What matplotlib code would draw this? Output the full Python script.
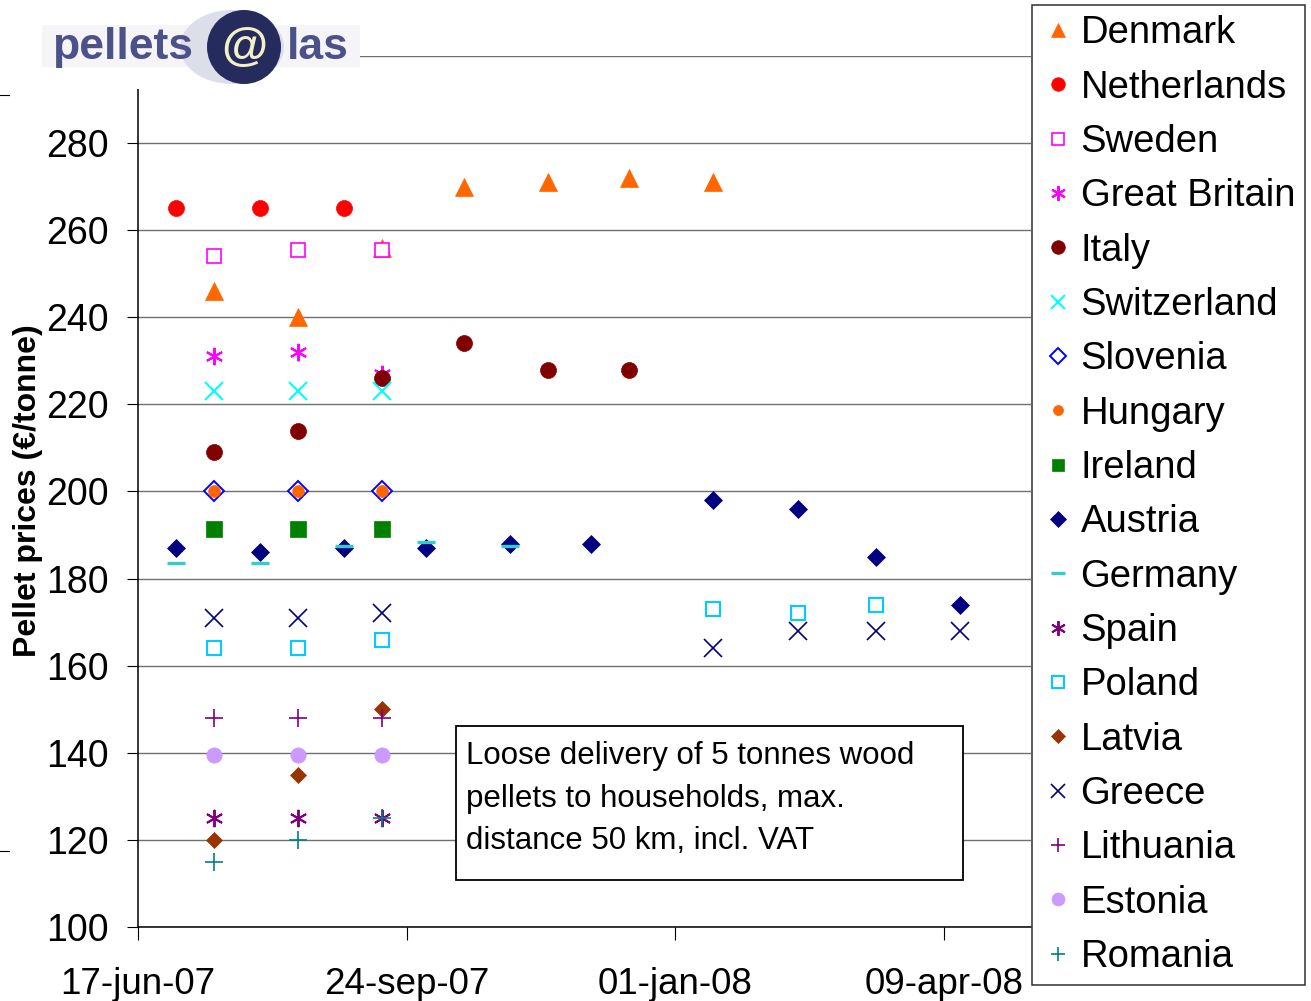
import numpy as np
import matplotlib
matplotlib.use("Agg")
import matplotlib.pyplot as plt
import matplotlib.dates as mdates
from matplotlib.ticker import FuncFormatter
from matplotlib.patches import Rectangle, Circle, Ellipse

plt.rcParams['font.family'] = ['Liberation Sans', 'DejaVu Sans']

# --- data ---
mid_summer = ['2007-07-15', '2007-08-15', '2007-09-15']

denmark_dates = mid_summer + ['2007-10-15', '2007-11-15', '2007-12-15', '2008-01-15']
denmark = [246, 240, 256, 270, 271, 272, 271]
netherlands_dates = ['2007-07-01', '2007-08-01', '2007-09-01']
netherlands = [265, 265, 265]
sweden = [254, 255.5, 255.5]
great_britain = [231, 232, 227]
italy_dates = mid_summer + ['2007-10-15', '2007-11-15', '2007-12-15']
italy = [209, 214, 226, 234, 228, 228]
switzerland = [223, 223, 223]
slovenia = [200, 200, 200]
hungary = [200, 200, 200]
ireland = [191.5, 191.5, 191.5]
austria_dates = ['2007-07-01', '2007-08-01', '2007-09-01', '2007-10-01', '2007-11-01',
                 '2007-12-01', '2008-01-15', '2008-02-15', '2008-03-15', '2008-04-15']
austria = [187, 186, 187, 187, 188, 188, 198, 196, 185, 174]
germany_dates = austria_dates[:5]
germany = [183.5, 183.5, 187.5, 188.5, 187.5]
spain = [125, 125, 125]
poland_dates = mid_summer + ['2008-01-15', '2008-02-15', '2008-03-15']
poland = [164, 164, 166, 173, 172, 174]
latvia = [120, 135, 150]
greece_dates = mid_summer + ['2008-01-15', '2008-02-15', '2008-03-15', '2008-04-15']
greece = [171, 171, 172, 164, 168, 168, 168]
lithuania = [148, 148, 148]
estonia = [139.5, 139.5, 139.5]
romania = [115, 120, 125]

series = [
    ('Denmark', denmark_dates, denmark),
    ('Netherlands', netherlands_dates, netherlands),
    ('Sweden', mid_summer, sweden),
    ('Great Britain', mid_summer, great_britain),
    ('Italy', italy_dates, italy),
    ('Switzerland', mid_summer, switzerland),
    ('Slovenia', mid_summer, slovenia),
    ('Hungary', mid_summer, hungary),
    ('Ireland', mid_summer, ireland),
    ('Austria', austria_dates, austria),
    ('Germany', germany_dates, germany),
    ('Spain', mid_summer, spain),
    ('Poland', poland_dates, poland),
    ('Latvia', mid_summer, latvia),
    ('Greece', greece_dates, greece),
    ('Lithuania', mid_summer, lithuania),
    ('Estonia', mid_summer, estonia),
    ('Romania', mid_summer, romania),
]

tick_start = '2007-06-17'
tick_step_days = 99
note = 'Loose delivery of 5 tonnes wood\npellets to households, max.\ndistance 50 km, incl. VAT'

# marker, size, face, edge, edge width
asterisk = (6, 2, 0)
styles = {
    'Denmark': ('^', 12.5, '#FF6600', '#FF6600', 0.5),
    'Netherlands': ('o', 11.5, '#FF0000', '#FF0000', 0.5),
    'Sweden': ('s', 10, 'white', '#FF00FF', 1.2),
    'Great Britain': (asterisk, 12.5, '#FF00FF', '#FF00FF', 1.5),
    'Italy': ('o', 11.5, '#800000', '#800000', 0.5),
    'Switzerland': ('x', 12.5, '#00FFFF', '#00FFFF', 1.5),
    'Slovenia': ('D', 10, 'white', '#0000FF', 1.4),
    'Hungary': ('o', 8.5, '#FF6600', '#FF6600', 0.5),
    'Ireland': ('s', 11, '#008000', '#008000', 0.5),
    'Austria': ('D', 9, '#000080', '#000080', 0.5),
    'Germany': ('_', 12.5, '#33CCCC', '#33CCCC', 2.4),
    'Spain': (asterisk, 12.5, '#800080', '#800080', 1.4),
    'Poland': ('s', 9.5, 'white', '#00CCFF', 1.5),
    'Latvia': ('D', 8, '#993300', '#993300', 0.5),
    'Greece': ('x', 12.5, '#000080', '#000080', 1.2),
    'Lithuania': ('+', 12.5, '#800080', '#800080', 1.2),
    'Estonia': ('o', 11, '#CC99FF', '#CC99FF', 0.5),
    'Romania': ('+', 12.5, '#008080', '#008080', 1.2),
}

W, H = 1311, 1001
fig = plt.figure(figsize=(W / 100, H / 100), dpi=100)
ax = fig.add_axes([138 / W, 1 - 927 / H, (1031 - 138) / W, (927 - 56) / H])

handles = []
for name, dates, vals in series:
    m, ms, fc, ec, mew = styles[name]
    h, = ax.plot(np.array(dates, dtype='datetime64[D]'), vals, ls='none', marker=m,
                 ms=ms, mfc=fc, mec=ec, mew=mew, label=name, clip_on=False)
    handles.append(h)

start = np.datetime64(tick_start)
ax.set_xlim(start, start + np.timedelta64(329, 'D'))
ax.set_xticks(start + np.arange(4) * np.timedelta64(tick_step_days, 'D'))
ax.xaxis.set_major_formatter(FuncFormatter(
    lambda x, p: mdates.num2date(x).strftime('%d-%b-%y').lower()))
ax.set_ylim(100, 300)
ax.set_yticks(range(100, 281, 20))

ax.grid(axis='y', color='#707070', lw=1.0)
ax.axhline(300, color='#707070', lw=1.0, zorder=0.5)
ax.set_axisbelow(True)
for s in ['top', 'right']:
    ax.spines[s].set_visible(False)
for s in ['left', 'bottom']:
    ax.spines[s].set_linewidth(1.1)
ax.tick_params(axis='y', labelsize=27, length=8, width=0.8, pad=13)
ax.tick_params(axis='x', labelsize=26.5, length=9, width=0.8, pad=20)

# overlay in pixel coordinates for logo, note box and label
ov = fig.add_axes([0, 0, 1, 1], zorder=3)
ov.set_xlim(0, W)
ov.set_ylim(H, 0)
ov.axis('off')
ov.patch.set_alpha(0)

ov.add_patch(Rectangle((0, 0), 360, 89, fc='white', ec='none'))
ov.add_patch(Rectangle((42, 25), 318, 42, fc='#f5f5f8', ec='none'))
ov.add_patch(Ellipse((232, 47), 104, 74, fc='#dcdeea', ec='none'))
ov.add_patch(Circle((244, 47), 37, fc='#262b5e', ec='none'))
ov.text(52, 59, 'pellets', fontsize=32, fontweight='bold', color='#4c5289', va='baseline')
ov.text(244, 49, '@', fontsize=34, fontweight='bold', color='#f2f0c4', ha='center', va='center')
ov.text(287, 59, 'las', fontsize=32, fontweight='bold', color='#4c5289', va='baseline')
ov.plot([0, 9], [95, 95], color='black', lw=0.8)
ov.plot([0, 9], [851, 851], color='black', lw=0.8)

ov.add_patch(Rectangle((456, 726), 507, 154, fc='white', ec='black', lw=1.3))
ov.text(466, 741, note, fontsize=22.5, va='top', ha='left', linespacing=1.55)

ov.text(28, 491, 'Pellet prices (€/tonne)', rotation=90, fontsize=23,
        fontweight='bold', ha='center', va='center')

leg = fig.legend(handles=handles, loc='upper left',
                 bbox_to_anchor=(1032 / W, 1 - 5 / H), bbox_transform=fig.transFigure,
                 fontsize=27.5, frameon=True, fancybox=False, framealpha=1,
                 edgecolor='#303030', borderpad=0.27, handlelength=0.8,
                 handletextpad=0.2, labelspacing=0.48, markerscale=0.85,
                 borderaxespad=0)
leg.get_frame().set_linewidth(1.1)

fig.savefig('out.png', dpi=100)
